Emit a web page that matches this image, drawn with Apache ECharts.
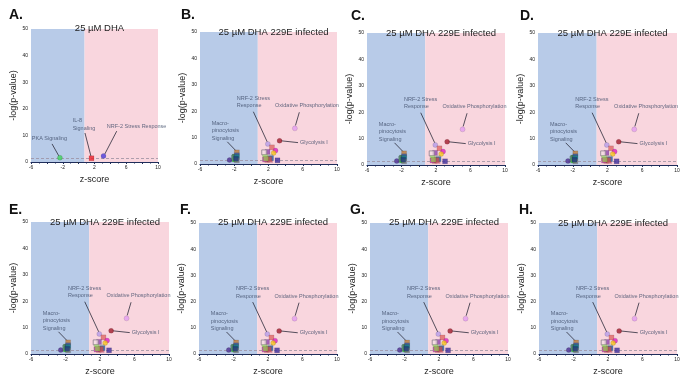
<!DOCTYPE html>
<html>
<head>
<meta charset="utf-8">
<script src="https://cdn.jsdelivr.net/npm/echarts@6/dist/echarts.min.js"></script>
<style>
html, body { margin: 0; padding: 0; background: #fff; }
#main { width: 683px; height: 377px; }
</style>
</head>
<body>
<div id="main"></div>
<script>
// axis ranges / thresholds
var zMin = -6, zMax = 10;
var yMin = 0, yMax = 50;
var zSplit = 0.75;     // blue/pink boundary
var pCut = 1.3;        // -log(0.05)

var panelLetters = ['A.', 'B.', 'C.', 'D.', 'E.', 'F.', 'G.', 'H.'];
var panelTitles = ['25 µM DHA', '25 µM DHA 229E infected', '25 µM DHA 229E infected', '25 µM DHA 229E infected',
                   '25 µM DHA 229E infected', '25 µM DHA 229E infected', '25 µM DHA 229E infected', '25 µM DHA 229E infected'];
var xTickLabels = ['-6', '-2', '2', '6', '10'];

// panel A: uninfected DHA
var dhaZ = [-2.36, 1.62, 3.13];
var dhaP = [1.6, 1.4, 2.3];
var dhaColors = ['#3fcf5a', '#e8202a', '#4b3bd8'];
var dhaShapes = ['circle', 'rect', 'circle'];

// panels B-H: DHA 229E infected
var infZ = [-2.55, -1.95, -1.95, -2.05, -1.7, -1.7, -1.7, -1.7, -1.8,
            1.92, 5.08, 3.29, 2.4, 1.88, 1.5, 2.82, 2.6, 1.6, 2.2, 1.85, 2.2, 3.05, 1.6, 2.3, 2.1, 1.7];
var infP = [1.5, 2.8, 1.7, 2.4, 4.4, 3.3, 2.6, 1.4, 2.0,
            7.6, 13.5, 8.8, 6.3, 4.6, 4.4, 5.1, 4.2, 2.6, 2.6, 1.6, 1.5, 1.4, 1.7, 2.2, 1.9, 2.0];
var infColors = ['#4b2c8f', '#2e7d32', '#33cc33', '#5b8a72', '#c07a3a', '#2f5aa8', '#1a8a8a', '#7f7f7f', '#1f3b7a',
                 '#b59be8', '#e49cf0', '#a01c2c', '#e06666', '#8e44ad', '#f3dde3', '#e020c0', '#f5c518', '#a8e07a',
                 '#bfbfbf', '#e02020', '#f080a0', '#3b2a9b', '#d040c0', '#2f6db5', '#c0504d', '#9bbb59'];
var infShapes = ['circle', 'rect', 'rect', 'rect', 'rect', 'rect', 'rect', 'rect', 'rect',
                 'circle', 'circle', 'circle', 'rect', 'rect', 'rect', 'circle', 'circle', 'rect',
                 'rect', 'rect', 'rect', 'rect', 'rect', 'rect', 'rect', 'rect'];

// annotations: text, text anchor (left-middle), leader line from -> to
var dhaNoteText = ['PKA Signaling', 'IL-8\nSignaling', 'NRF-2 Stress Response'];
var dhaNoteAt = [[-5.9, 9.0], [-0.75, 14.1], [3.55, 13.2]];
var dhaNoteFrom = [[-3.35, 6.8], [0.8, 10.9], [4.8, 11.6]];
var dhaNoteTo = [[-2.5, 2.3], [1.55, 2.2], [3.3, 3.0]];

var infNoteText = ['NRF-2 Stress\nResponse', 'Oxidative Phosphorylation', 'Glycolysis I', 'Macro-\npinocytosis\nSignaling'];
var infNoteAt = [[-1.71, 23.5], [2.76, 22.1], [5.68, 8.1], [-4.63, 12.6]];
var infNoteFrom = [[0.23, 19.8], [5.6, 19.6], [5.45, 8.1], [-2.81, 8.4]];
var infNoteTo = [[1.85, 8.4], [5.15, 14.6], [3.45, 8.8], [-1.8, 5.0]];

// panel plot boxes in px: left, top, width, height
var boxes = [
    [31, 29, 127, 133], [200, 32, 137, 132], [367, 33, 138, 132], [538, 33, 139, 132],
    [31, 222, 138, 132], [199, 223, 138, 132], [370, 223, 138, 132], [539, 223, 138, 132]
];
var titleTops = [18, 22, 23, 23, 212, 212, 212, 213];
var letterPos = [[4, 3], [176, 3], [346, 4], [515, 4], [4, 198], [175, 198], [345, 198], [514, 198]];

var chart = echarts.init(document.getElementById('main'));

var FONT = 'Liberation Sans';
var grids = [], xAxes = [], yAxes = [], titles = [], series = [];

function points(zs, ps, colors, shapes) {
    var out = [];
    for (var i = 0; i < zs.length; i++) {
        var open = colors[i] === '#f3dde3';
        out.push({
            value: [zs[i], ps[i]],
            symbol: shapes[i],
            itemStyle: {
                color: colors[i],
                borderColor: open ? '#8c7f8c' : 'rgba(0,0,0,0.25)',
                borderWidth: open ? 1 : 0.5
            }
        });
    }
    return out;
}

for (var k = 0; k < 8; k++) {
    var b = boxes[k];
    grids.push({ left: b[0], top: b[1], width: b[2], height: b[3], containLabel: false });
    xAxes.push({
        gridIndex: k, type: 'value', min: zMin, max: zMax, interval: 2,
        name: 'z-score', nameLocation: 'middle', nameGap: 13,
        nameTextStyle: { fontFamily: FONT, fontSize: 9, color: '#222' },
        axisLine: { onZero: false, lineStyle: { color: '#1f2d5a', width: 1.2 } },
        axisTick: { length: 2, lineStyle: { color: '#1f2d5a' } },
        minorTick: { show: true, splitNumber: 2, length: 1.5, lineStyle: { color: '#1f2d5a' } },
        axisLabel: {
            fontFamily: FONT, fontSize: 5, color: '#222', margin: 3,
            formatter: function (v) { return xTickLabels.indexOf(String(v)) >= 0 ? String(v) : ''; }
        },
        splitLine: { show: false }
    });
    yAxes.push({
        gridIndex: k, type: 'value', min: yMin, max: yMax, interval: 10,
        name: '-log(p-value)', nameLocation: 'middle', nameGap: 13, nameRotate: 90,
        nameTextStyle: { fontFamily: FONT, fontSize: 9, color: '#222' },
        axisLine: { show: true, lineStyle: { color: '#333', width: 0.8 } },
        axisTick: { show: true, length: 2, lineStyle: { color: '#333' } },
        axisLabel: { fontFamily: FONT, fontSize: 5, color: '#222', margin: 3 },
        splitLine: { show: false }
    });
    titles.push({
        text: panelTitles[k], left: b[0] + b[2] / 2, top: titleTops[k], textAlign: 'center',
        textStyle: { fontFamily: FONT, fontSize: 9.5, fontWeight: 'normal', color: '#222' }
    });
    titles.push({
        text: panelLetters[k], left: letterPos[k][0], top: letterPos[k][1],
        textStyle: { fontFamily: FONT, fontSize: 14, fontWeight: 'bold', color: '#111' }
    });

    // background bands + significance line
    series.push({
        type: 'scatter', xAxisIndex: k, yAxisIndex: k, data: [], z: 1, silent: true,
        markArea: {
            silent: true,
            data: [
                [{ coord: [zMin, yMin], itemStyle: { color: '#b8cbe8' } }, { coord: [zSplit, yMax] }],
                [{ coord: [zSplit, yMin], itemStyle: { color: '#f9d6de' } }, { coord: [zMax, yMax] }]
            ]
        },
        markLine: {
            silent: true, symbol: 'none', label: { show: false },
            lineStyle: { color: '#9a8fa0', type: [3, 2], width: 0.8 },
            data: [{ yAxis: pCut }]
        }
    });

    var isA = k === 0;
    var nText = isA ? dhaNoteText : infNoteText;
    var nAt = isA ? dhaNoteAt : infNoteAt;
    var nFrom = isA ? dhaNoteFrom : infNoteFrom;
    var nTo = isA ? dhaNoteTo : infNoteTo;

    var lineData = [];
    var textData = [];
    for (var j = 0; j < nText.length; j++) {
        lineData.push({ coords: [nFrom[j], nTo[j]] });
        textData.push({ value: nAt[j], name: nText[j] });
    }
    series.push({
        type: 'lines', coordinateSystem: 'cartesian2d', xAxisIndex: k, yAxisIndex: k, z: 3, silent: true,
        lineStyle: { color: '#2b2b3a', width: 0.8, opacity: 1 },
        data: lineData
    });
    series.push({
        type: 'scatter', xAxisIndex: k, yAxisIndex: k, symbolSize: 0, z: 4, silent: true,
        label: {
            show: true, position: 'inside', align: 'left', verticalAlign: 'middle',
            formatter: '{b}', fontFamily: FONT, fontSize: 5.5, lineHeight: 7.5, color: '#3c4a66'
        },
        data: textData
    });

    series.push({
        type: 'scatter', xAxisIndex: k, yAxisIndex: k, symbolSize: 5, z: 5,
        data: isA ? points(dhaZ, dhaP, dhaColors, dhaShapes) : points(infZ, infP, infColors, infShapes)
    });
}

chart.setOption({
    animation: false,
    title: titles,
    grid: grids,
    xAxis: xAxes,
    yAxis: yAxes,
    series: series
});
</script>
</body>
</html>
